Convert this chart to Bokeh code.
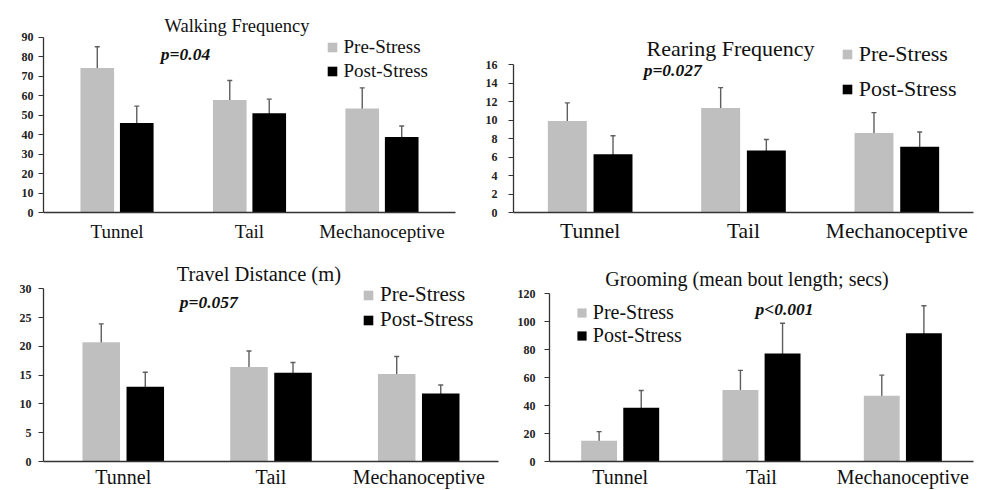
from bokeh.plotting import figure
from bokeh.models import (ColumnDataSource, FactorRange, Range1d, FixedTicker,
                          Whisker, TeeHead, Label, Legend, LegendItem)
from bokeh.transform import dodge
from bokeh.layouts import column, row
from bokeh.embed import file_html
from bokeh.resources import INLINE

# ---------------- data ----------------
categories = ["Tunnel", "Tail", "Mechanoceptive"]
series_names = ["Pre-Stress", "Post-Stress"]

walk_pre = [74.2, 57.8, 53.4]
walk_pre_err = [10.9, 10.0, 10.6]
walk_post = [45.9, 51.0, 38.8]
walk_post_err = [8.7, 7.2, 5.6]

rear_pre = [9.9, 11.3, 8.6]
rear_pre_err = [1.95, 2.2, 2.2]
rear_post = [6.3, 6.7, 7.1]
rear_post_err = [2.0, 1.2, 1.6]

dist_pre = [20.7, 16.4, 15.2]
dist_pre_err = [3.2, 2.8, 3.05]
dist_post = [13.0, 15.4, 11.8]
dist_post_err = [2.5, 1.8, 1.5]

groom_pre = [14.9, 51.2, 47.1]
groom_pre_err = [6.5, 14.0, 14.7]
groom_post = [38.4, 77.3, 91.7]
groom_post_err = [12.4, 21.6, 19.7]

titles = ["Walking Frequency", "Rearing Frequency",
          "Travel Distance (m)", "Grooming (mean bout length; secs)"]
p_values = ["p=0.04", "p=0.027", "p=0.057", "p<0.001"]
y_ticks = [list(range(0, 91, 10)), list(range(0, 17, 2)),
           list(range(0, 31, 5)), list(range(0, 121, 20))]

# ---------------- style ----------------
SERIF = "Liberation Serif"
PRE_COLOR = "#bfbfbf"
POST_COLOR = "#000000"
ERR_COLOR = "#5e5e5e"
AXIS_COLOR = "#333333"
BAR_W = 0.254
OFF = 0.149


def make_panel(title, pval, pre, pre_err, post, post_err, ticks,
               origin, size, frame, ytop_px, padding, title_pos, title_fs,
               p_pos, p_fs, leg_rows, leg_x, leg_h, leg_fs, cat_fs, cat_standoff,
               ytick_standoff):
    ox, oy = origin
    w, h = size
    fl, fr, fb = frame
    ymax = ticks[-1]
    # the frame reaches the top of the figure so that texts above the axis
    # are not clipped; the axis itself is bounded to [0, ymax]
    y_end = ymax * (fb - oy) / (fb - ytop_px)
    p = figure(width=w, height=h, output_backend="svg", toolbar_location=None,
               x_range=FactorRange(factors=categories, range_padding=padding,
                                   range_padding_units="absolute"),
               y_range=Range1d(0, y_end),
               min_border_left=fl - ox, min_border_top=0,
               min_border_right=ox + w - fr, min_border_bottom=oy + h - fb)
    p.outline_line_color = None
    p.xgrid.visible = False
    p.ygrid.visible = False
    p.background_fill_color = "white"
    p.border_fill_color = "white"

    src = ColumnDataSource(dict(
        cat=categories, pre=pre, post=post,
        pre_lo=[m - e for m, e in zip(pre, pre_err)],
        pre_hi=[m + e for m, e in zip(pre, pre_err)],
        post_lo=[m - e for m, e in zip(post, post_err)],
        post_hi=[m + e for m, e in zip(post, post_err)],
    ))
    x_pre = dodge("cat", -OFF, range=p.x_range)
    x_post = dodge("cat", OFF, range=p.x_range)
    p.vbar(x=x_pre, top="pre", width=BAR_W, source=src,
           fill_color=PRE_COLOR, line_color=None)
    p.vbar(x=x_post, top="post", width=BAR_W, source=src,
           fill_color=POST_COLOR, line_color=None)
    for base, lo, hi in [(x_pre, "pre_lo", "pre_hi"), (x_post, "post_lo", "post_hi")]:
        wk = Whisker(source=src, base=base, lower=lo, upper=hi, dimension="height",
                     line_color=ERR_COLOR, line_width=1.4,
                     upper_head=TeeHead(size=5, line_color=ERR_COLOR, line_width=1.4),
                     lower_head=TeeHead(size=5, line_color=ERR_COLOR, line_width=1.4))
        p.add_layout(wk)

    # legend (square markers)
    m_pre = p.scatter(x=x_pre, y="pre", source=src, marker="square", size=10,
                      fill_color=PRE_COLOR, line_color=None, visible=False)
    m_post = p.scatter(x=x_post, y="post", source=src, marker="square", size=10,
                       fill_color=POST_COLOR, line_color=None, visible=False)
    r1, r2 = leg_rows
    spacing = max(0, int(round((r2 - r1) - leg_h)))
    leg = Legend(items=[LegendItem(label=series_names[0], renderers=[m_pre]),
                        LegendItem(label=series_names[1], renderers=[m_post])],
                 location=(leg_x - leg_h / 2 - fl, fb - (r2 + leg_h / 2)),
                 orientation="vertical", padding=0, margin=0, spacing=spacing,
                 glyph_width=leg_h, glyph_height=leg_h, label_height=leg_h,
                 label_standoff=0, label_text_font=SERIF,
                 label_text_font_size=f"{leg_fs}px", label_text_color="#111111",
                 border_line_color=None, background_fill_alpha=0)
    p.add_layout(leg)

    # axes
    p.yaxis.ticker = FixedTicker(ticks=ticks)
    p.yaxis.bounds = (0, ymax)
    p.yaxis.major_tick_out = 5
    p.yaxis.major_tick_in = 0
    p.yaxis.minor_tick_out = 0
    p.yaxis.minor_tick_in = 0
    p.yaxis.major_label_standoff = ytick_standoff
    p.yaxis.major_label_text_font = SERIF
    p.yaxis.major_label_text_font_style = "bold"
    p.yaxis.major_label_text_font_size = "12px"
    p.yaxis.major_label_text_color = "#222222"
    p.yaxis.axis_line_color = AXIS_COLOR
    p.yaxis.axis_line_width = 1.3
    p.yaxis.major_tick_line_color = AXIS_COLOR

    p.xaxis.major_tick_line_color = None
    p.xaxis.major_tick_out = 0
    p.xaxis.minor_tick_line_color = None
    p.xaxis.axis_line_color = AXIS_COLOR
    p.xaxis.axis_line_width = 1.6
    p.xaxis.major_label_text_font = SERIF
    p.xaxis.major_label_text_font_size = f"{cat_fs}px"
    p.xaxis.major_label_text_color = "#111111"
    p.xaxis.major_label_standoff = cat_standoff

    # title and p-value as text
    tx, ty = title_pos
    p.add_layout(Label(x=tx - fl, y=fb - ty, x_units="screen", y_units="screen",
                       text=title, text_font=SERIF, text_font_size=f"{title_fs}px",
                       text_align="center", text_baseline="alphabetic",
                       text_color="#111111"))
    px, py = p_pos
    p.add_layout(Label(x=px - fl, y=fb - py, x_units="screen", y_units="screen",
                       text=pval, text_font=SERIF, text_font_size=f"{p_fs}px",
                       text_font_style="bold italic",
                       text_align="center", text_baseline="alphabetic",
                       text_color="#111111"))
    return p


p1 = make_panel(titles[0], p_values[0], walk_pre, walk_pre_err, walk_post, walk_post_err,
                y_ticks[0], origin=(0, 0), size=(476, 245), frame=(43, 455, 212),
                ytop_px=36.7, padding=0.055, title_pos=(236.5, 25), title_fs=18.5,
                p_pos=(185, 53.5), p_fs=17.5, leg_rows=(46.7, 70.7), leg_x=331.5,
                leg_h=24, leg_fs=19, cat_fs=19, cat_standoff=8, ytick_standoff=5)
p2 = make_panel(titles[1], p_values[1], rear_pre, rear_pre_err, rear_post, rear_post_err,
                y_ticks[1], origin=(476, 0), size=(511, 245), frame=(513, 973, 212),
                ytop_px=64, padding=0.0, title_pos=(730, 48.3), title_fs=22,
                p_pos=(672.2, 69.3), p_fs=17.5, leg_rows=(56.7, 90), leg_x=846.7,
                leg_h=24, leg_fs=22, cat_fs=21.5, cat_standoff=6, ytick_standoff=11)
p3 = make_panel(titles[2], p_values[2], dist_pre, dist_pre_err, dist_post, dist_post_err,
                y_ticks[2], origin=(0, 245), size=(500, 245), frame=(43, 498, 461),
                ytop_px=288.3, padding=0.04, title_pos=(258.3, 273.3), title_fs=20.5,
                p_pos=(208.3, 301.7), p_fs=17.5, leg_rows=(295.7, 320), leg_x=368,
                leg_h=24, leg_fs=21, cat_fs=20, cat_standoff=4, ytick_standoff=7)
p4 = make_panel(titles[3], p_values[3], groom_pre, groom_pre_err, groom_post, groom_post_err,
                y_ticks[3], origin=(500, 245), size=(487, 245), frame=(549, 973, 461),
                ytop_px=293.3, padding=0.0, title_pos=(746.5, 278.3), title_fs=20,
                p_pos=(784, 308.3), p_fs=17.5, leg_rows=(311.7, 335), leg_x=581.3,
                leg_h=23, leg_fs=20, cat_fs=20, cat_standoff=4, ytick_standoff=9)

layout = column(row(p1, p2), row(p3, p4))
open("out.html", "w").write(file_html(layout, INLINE))
